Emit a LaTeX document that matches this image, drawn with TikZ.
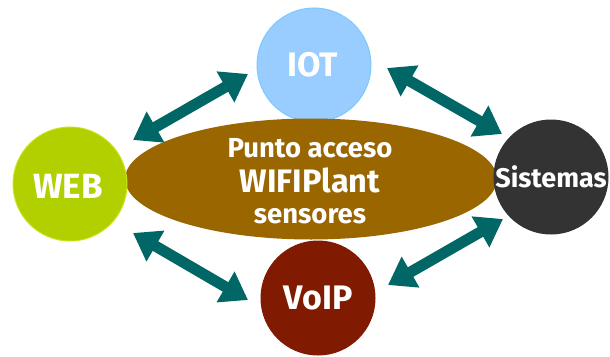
\documentclass[tikz,border=0pt]{standalone}
\usepackage{fontspec}
\setmainfont{Fira Sans}
\usetikzlibrary{arrows.meta,shapes.geometric}
\definecolor{iotblue}{HTML}{99CCFF}
\definecolor{iotedge}{HTML}{7FC8FF}
\definecolor{webgreen}{HTML}{B2CF00}
\definecolor{webedge}{HTML}{CCE21A}
\definecolor{sysgray}{HTML}{333333}
\definecolor{voipred}{HTML}{801A00}
\definecolor{hubbrown}{HTML}{996600}
\definecolor{linkteal}{HTML}{006666}
\tikzset{
  hub/.style={circle, minimum size=114pt, inner sep=0pt, line width=1pt},
  lbl/.style={text=white, inner sep=0pt},
  link/.style={linkteal, line width=11pt,
    {Triangle[length=26pt,width=34pt]}-{Triangle[length=26pt,width=34pt]}}
}
\newcommand\fsz[1]{\bfseries\fontsize{#1}{#1}\selectfont}
\begin{document}
\begin{tikzpicture}[x=1pt, y=-1pt]
\useasboundingbox (0,0) rectangle (610,356);
% outer services
\node[hub, fill=iotblue, draw=iotedge] (iot) at (314,65) {};
\node[lbl, font=\fsz{34}] (iotlbl) at (313,65) {IOT};
% central access point
\node[ellipse, fill=hubbrown, minimum width=372pt, minimum height=121pt, inner sep=0pt] (ap) at (311,179) {};
\node[lbl, anchor=base, font=\fsz{27.5}] (l1) at (310,157) {Punto acceso};
\node[lbl, anchor=base, font=\fsz{32.5}] (l2) at (310,192) {WIFIPlant};
\node[lbl, anchor=base, font=\fsz{27.5}] (l3) at (310,223) {sensores};
\node[hub, fill=webgreen, draw=webedge] (web) at (70,184) {};
\node[lbl, font=\fsz{35}] (weblbl) at (68,186) {WEB};
\node[hub, fill=sysgray, draw=sysgray] (sys) at (551,177) {};
\node[lbl, font=\fsz{27}] (syslbl) at (551,177) {Sistemas};
\node[hub, fill=voipred, draw=voipred] (voip) at (318,298) {};
\node[lbl, font=\fsz{34}] (voiplbl) at (318,298) {VoIP};
% arrow end points
\coordinate (a1s) at (133,140);
\coordinate (a1e) at (248,74);
\coordinate (a2s) at (387,68);
\coordinate (a2e) at (502,134);
\coordinate (a3s) at (133,233);
\coordinate (a3e) at (248,300);
\coordinate (a4s) at (388,285);
\coordinate (a4e) at (503,219);
\draw[link] (a1s) -- (a1e);
\draw[link] (a2s) -- (a2e);
\draw[link] (a3s) -- (a3e);
\draw[link] (a4s) -- (a4e);
\end{tikzpicture}
\end{document}
